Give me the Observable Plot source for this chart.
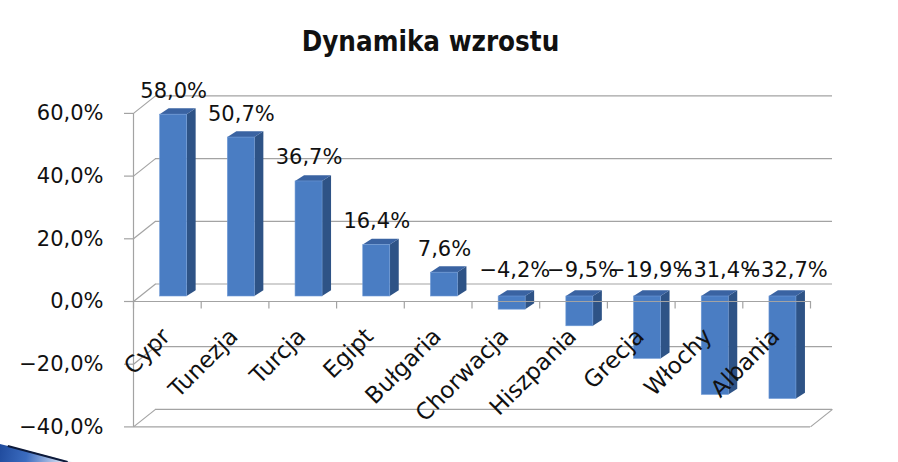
<!DOCTYPE html>
<html>
<head>
<meta charset="utf-8">
<script src="https://cdn.jsdelivr.net/npm/d3@7"></script>
<script src="https://cdn.jsdelivr.net/npm/@observablehq/plot@0.6"></script>
<style>
  html, body { margin: 0; padding: 0; background: #fff; }
  #wrap { position: relative; width: 898px; height: 462px; overflow: hidden; }
  #title { position: absolute; left: 0; top: 27px; width: 861px; text-align: center;
           font-family: "DejaVu Sans Condensed", "DejaVu Sans", sans-serif; font-weight: bold;
           font-size: 27.5px; line-height: 28px; color: #111; }
  #chart { position: absolute; left: 0; top: 70px; }
  #swoosh { position: absolute; left: 0; top: 440px; width: 80px; height: 22px;
            background: linear-gradient(100deg, #1f4a9c 0%, #3b6cc0 35%, #c9d6ee 75%, #fff 100%);
            clip-path: polygon(0 4px, 72px 22px, 0 22px); }
  #swoosh2 { position: absolute; left: 8px; top: 445px; width: 62px; height: 2px; background: #0d1a3a;
             transform-origin: 0 0; transform: rotate(15deg); }
</style>
</head>
<body>
<div id="wrap">
  <div id="title">Dynamika wzrostu</div>
  <div id="chart"></div>
  <div id="swoosh"></div>
  <div id="swoosh2"></div>
</div>
<script>
const categories = ["Cypr", "Tunezja", "Turcja", "Egipt", "Bułgaria", "Chorwacja", "Hiszpania", "Grecja", "Włochy", "Albania"];
const values = [58.0, 50.7, 36.7, 16.4, 7.6, -4.2, -9.5, -19.9, -31.4, -32.7];
const yTicks = [-40, -20, 0, 20, 40, 60];

// pixel geometry of the pseudo-3D frame
const CAT = 67.7, PCT = 3.135;
const WX = 22 / CAT, WY = 17.5 / PCT;      // wall depth in data units
const HW = 13.5 / CAT;                     // half bar width
const DX = 9 / CAT, DY = 5.8 / PCT;        // bar depth in data units
const BAR_DX = 6.3, BAR_DY = -5;           // bar plane offset in px

const fmt = v => (v < 0 ? "\u2212" : "") + Math.abs(v).toFixed(1).replace(".", ",") + "%";

const bars = categories.map((c, i) => ({c, i, v: values[i], lo: Math.min(0, values[i]), hi: Math.max(0, values[i])}));

const sidePts = bars.flatMap(d => [
  {i: d.i, x: d.i + 0.5 + HW, y1: d.lo, y2: d.hi},
  {i: d.i, x: d.i + 0.5 + HW + DX, y1: d.lo + DY, y2: d.hi + DY}
]);
const topPts = bars.flatMap(d => {
  const xL = d.i + 0.5 - HW, xR = d.i + 0.5 + HW, t = d.hi;
  return [
    {i: d.i, x: xL, y1: t, y2: t},
    {i: d.i, x: xL + DX, y1: t, y2: t + DY},
    {i: d.i, x: xR, y1: t, y2: t + DY},
    {i: d.i, x: xR + DX, y1: t + DY, y2: t + DY}
  ];
});

const grid = "#a3a3a3";
const FONT = 21;

const chart = Plot.plot({
  width: 898,
  height: 392,
  x: {type: "linear", domain: [0, 10], range: [133, 810], axis: null},
  y: {type: "linear", domain: [-40, 60], range: [356.4, 42.9], axis: null},
  style: {fontFamily: "DejaVu Sans, sans-serif", background: "white", overflow: "visible"},
  marks: [
    // back wall gridlines
    Plot.ruleY(yTicks, {x1: 0, x2: 10, dx: 22, dy: -17.5, stroke: grid, strokeWidth: 1.2}),
    // left wall diagonals
    Plot.link(yTicks, {x1: () => 0, y1: d => d, x2: () => WX, y2: d => d + WY, stroke: grid, strokeWidth: 1.2}),
    // floor right edge
    Plot.link([-40], {x1: () => 10, y1: d => d, x2: () => 10 + WX, y2: d => d + WY, stroke: grid, strokeWidth: 1.2}),
    // front floor edge
    Plot.ruleY([-40], {x1: 0, x2: 10, stroke: grid, strokeWidth: 1.2}),
    // bars: side, top, front
    Plot.areaY(sidePts, {x: "x", y1: "y1", y2: "y2", z: "i", fill: "#2E5386", dx: BAR_DX, dy: BAR_DY}),
    Plot.areaY(topPts, {x: "x", y1: "y1", y2: "y2", z: "i", fill: "#3A63A2", dx: BAR_DX, dy: BAR_DY}),
    Plot.rect(bars, {x1: d => d.i + 0.5 - HW, x2: d => d.i + 0.5 + HW, y1: "lo", y2: "hi",
                     fill: "#4A7DC3", stroke: "#6f9ad6", strokeWidth: 0.6, dx: BAR_DX, dy: BAR_DY}),
    // front axis line, zero line, ticks
    Plot.ruleX([0], {y1: -40, y2: 60, stroke: grid, strokeWidth: 1.2}),
    Plot.ruleY([0], {x1: 0, x2: 10, stroke: grid, strokeWidth: 1.2}),
    Plot.ruleY(yTicks, {x1: -9 / CAT, x2: 0, stroke: grid, strokeWidth: 1.2}),
    Plot.ruleX(d3.range(0, 11), {y1: 0, y2: -7.5 / PCT, stroke: grid, strokeWidth: 1.2}),
    // y tick labels
    Plot.text(yTicks, {x: () => 0, y: d => d, text: d => fmt(d), textAnchor: "end", dx: -30, fontSize: FONT, fill: "#111"}),
    // value labels
    Plot.text(bars.filter(d => d.v >= 0), {x: d => d.i + 0.5, y: "v", text: d => fmt(d.v), dx: 6.3, dy: -28.7, fontSize: FONT, fill: "#111"}),
    Plot.text(bars.filter(d => d.v < 0), {x: d => d.i + 0.5, y: () => 0, text: d => fmt(d.v), dx: 9, dy: -31.7, fontSize: FONT, fill: "#111"}),
    // category labels
    Plot.text(bars, {x: d => d.i + 0.5, y: () => 0, text: "c", rotate: -45, textAnchor: "end", dx: -1, dy: 31, fontSize: 23, fill: "#111"})
  ]
});
document.getElementById("chart").appendChild(chart);
</script>
</body>
</html>
